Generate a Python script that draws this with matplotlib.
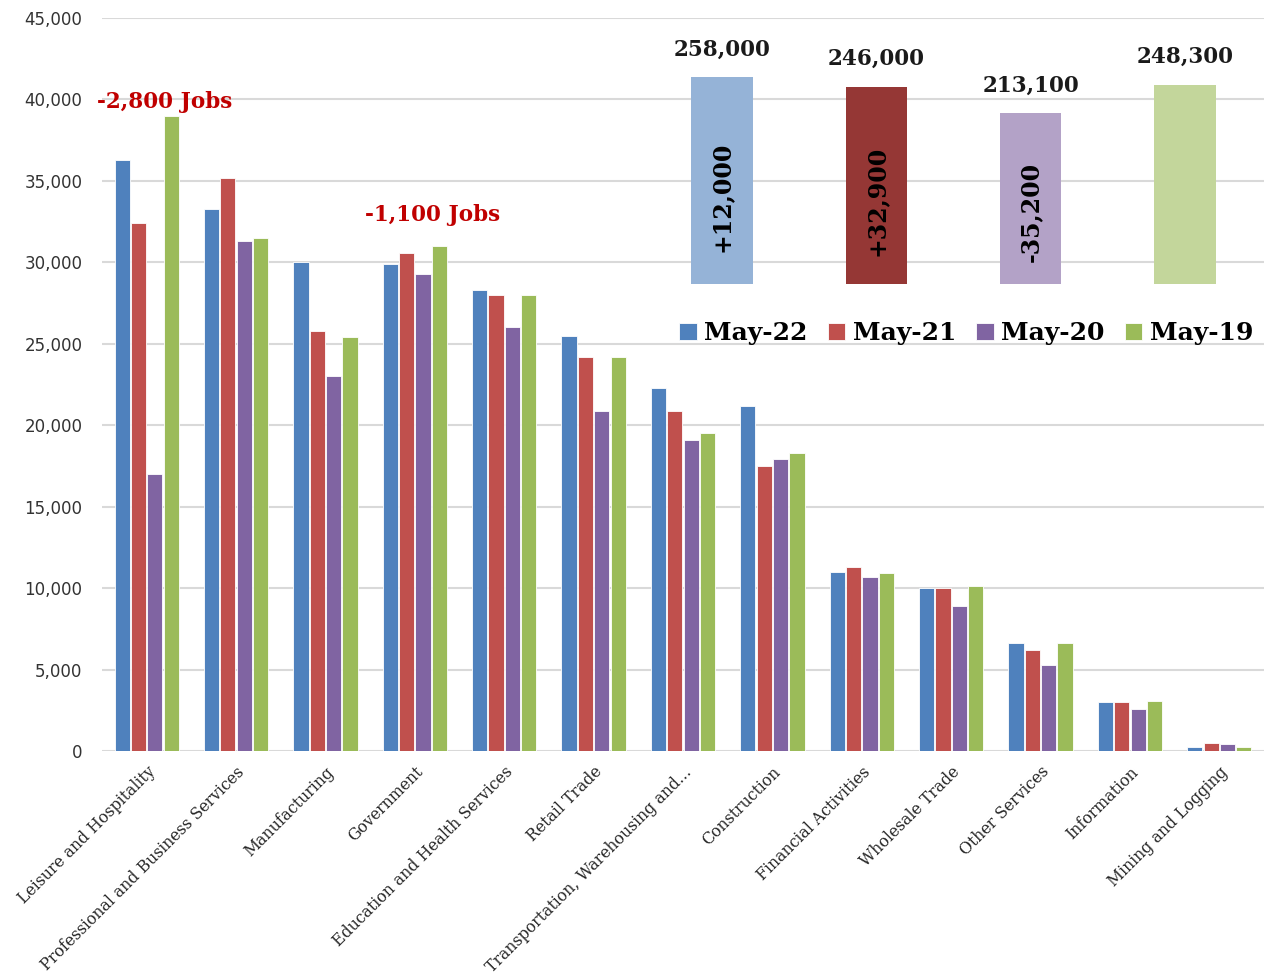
import numpy as np
import matplotlib.pyplot as plt

# May employment by industry (jobs)
industries = ['Leisure and Hospitality', 'Professional and Business Services', 'Manufacturing',
              'Government', 'Education and Health Services', 'Retail Trade',
              'Transportation, Warehousing and...', 'Construction', 'Financial Activities',
              'Wholesale Trade', 'Other Services', 'Information', 'Mining and Logging']
years = ['May-22', 'May-21', 'May-20', 'May-19']
may22 = [36300, 33300, 30000, 29900, 28300, 25500, 22300, 21200, 11000, 10000, 6600, 3000, 250]
may21 = [32400, 35200, 25800, 30600, 28000, 24200, 20900, 17500, 11300, 10000, 6200, 3000, 500]
may20 = [17000, 31300, 23000, 29300, 26000, 20900, 19100, 17900, 10700, 8900, 5300, 2600, 400]
may19 = [39000, 31500, 25400, 31000, 28000, 24200, 19500, 18300, 10900, 10100, 6600, 3050, 250]

# statewide totals and year-over-year change
totals = [258000, 246000, 213100, 248300]
changes = ['+12,000', '+32,900', '-35,200', '']

colors = ['#4F81BD', '#C0504D', '#8064A2', '#9BBB59']
light_colors = ['#95B3D7', '#953735', '#B3A2C7', '#C3D69B']

fig = plt.figure(figsize=(12.64, 9.76), dpi=100)
ax = fig.add_axes([102 / 1264, 225 / 976, 1162 / 1264, 733 / 976])

x = np.arange(len(industries))
w = 0.17
pitch = 0.183
for i, (vals, c, lab) in enumerate(zip([may22, may21, may20, may19], colors, years)):
    ax.bar(x + (i - 1.5) * pitch, vals, w, color=c, edgecolor='white', linewidth=0.6,
           label=lab, zorder=2)

ax.set_xlim(-0.5, len(industries) - 0.5)
ax.set_ylim(0, 45000)
ax.set_yticks(np.arange(0, 45001, 5000))
ax.set_yticklabels([f'{v:,}' for v in range(0, 45001, 5000)], fontsize=12, color='#333333',
                   family='DejaVu Sans')
ax.yaxis.grid(True, color='#D9D9D9', linewidth=1.5, zorder=0)
ax.set_axisbelow(True)
for s in ax.spines.values():
    s.set_visible(False)
ax.tick_params(length=0)
ax.tick_params(axis='y', pad=14)
ax.tick_params(axis='x', pad=9)
ax.set_xticks(x)
ax.set_xticklabels(industries, rotation=45, ha='right', rotation_mode='anchor',
                   family='DejaVu Serif', fontsize=11.3, color='#262626')

# job losses since 2019
ax.text(0.2, 39150, '-2,800 Jobs', color='#C00000', fontsize=15.5, fontweight='bold',
        family='DejaVu Serif', ha='center', va='bottom')
ax.text(3.2, 32250, '-1,100 Jobs', color='#C00000', fontsize=15.5, fontweight='bold',
        family='DejaVu Serif', ha='center', va='bottom')

ax.legend(loc='upper right', bbox_to_anchor=(1.01, 0.617), ncol=4, frameon=False,
          prop={'family': 'DejaVu Serif', 'weight': 'bold', 'size': 18},
          handlelength=0.7, handleheight=0.7, handletextpad=0.3, columnspacing=0.8)

# inset totals
ins = fig.add_axes([645 / 1264, (976 - 284) / 976, 617 / 1264, 254 / 976])
ins.patch.set_alpha(0)
ins.axis('off')
ins.set_xlim(-0.5, 3.5)
ins.set_ylim(0, 316600)
bars = ins.bar(np.arange(4), totals, 0.4, color=light_colors)
for i, (t, ch) in enumerate(zip(totals, changes)):
    ins.annotate(f'{t:,}', (i, t), xytext=(0, 12), textcoords='offset points',
                 ha='center', va='bottom', family='DejaVu Serif', fontweight='bold',
                 fontsize=15.5, color='#1a1a1a')
    if ch:
        ins.text(i, t * 0.42, ch, rotation=90, ha='center', va='center',
                 family='DejaVu Serif', fontweight='bold', fontsize=17, color='black')

fig.savefig('out.png', dpi=100)
